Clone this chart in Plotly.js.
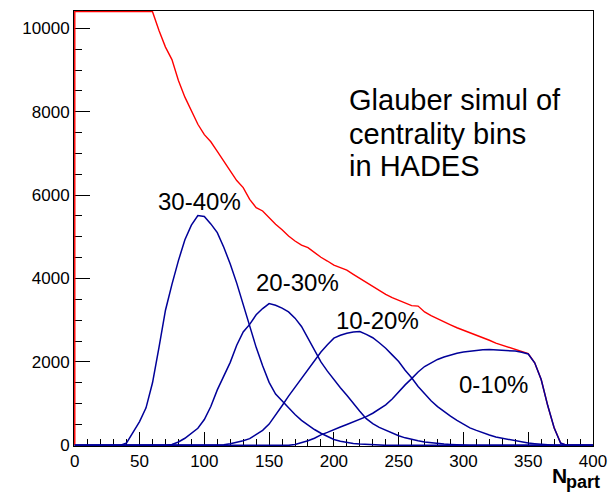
<!DOCTYPE html>
<html>
<head>
<meta charset="utf-8">
<script src="https://cdn.plot.ly/plotly-3.0.1.min.js"></script>
<style>
  html, body { margin: 0; padding: 0; background: #ffffff; }
  #chart { width: 615px; height: 492px; }
</style>
</head>
<body>
<div id="chart"></div>
<script>
// Number of participants (sampling grid, 5 units apart)
const npart = [
  0, 5, 10, 15, 20, 25, 30, 35, 40, 45,
  50, 55, 60, 65, 70, 75, 80, 85, 90, 95,
  100, 105, 110, 115, 120, 125, 130, 135, 140, 145,
  150, 155, 160, 165, 170, 175, 180, 185, 190, 195,
  200, 205, 210, 215, 220, 225, 230, 235, 240, 245,
  250, 255, 260, 265, 270, 275, 280, 285, 290, 295,
  300, 305, 310, 315, 320, 325, 330, 335, 340, 345,
  350, 355, 360, 365, 370, 375, 380, 385, 390, 395,
  400
];

// Minimum-bias N_part distribution (all events)
const allEvents = [
  38000, 26000, 21000, 18000, 16000, 14600, 13500, 12700, 12000, 11500,
  11100, 10800, 10500, 9950, 9550, 9250, 8750, 8350, 8020, 7700,
  7450, 7280, 7050, 6800, 6580, 6350, 6180, 5900, 5700, 5620,
  5450, 5300, 5170, 5020, 4900, 4800, 4740, 4620, 4510, 4420,
  4320, 4260, 4200, 4100, 4000, 3910, 3810, 3720, 3620, 3540,
  3470, 3420, 3350, 3340, 3200, 3110, 3030, 2960, 2890, 2820,
  2760, 2710, 2640, 2580, 2520, 2450, 2400, 2350, 2300, 2260,
  2200, 1980, 1580, 960, 420, 55, 0, 0, 0, 0,
  0
];

// Centrality classes
const cent30to40 = [
  0, 0, 0, 0, 0, 0, 0, 0, 60, 300,
  570, 900, 1500, 2350, 3240, 3860, 4430, 4930, 5280, 5510,
  5490, 5310, 5100, 4750, 4350, 3890, 3380, 2860, 2350, 1910,
  1510, 1230, 1060, 890, 740, 600, 480, 380, 290, 210,
  140, 100, 70, 45, 30, 20, 10, 5, 0, 0,
  0, 0, 0, 0, 0, 0, 0, 0, 0, 0,
  0, 0, 0, 0, 0, 0, 0, 0, 0, 0,
  0, 0, 0, 0, 0, 0, 0, 0, 0, 0,
  0
];

const cent20to30 = [
  0, 0, 0, 0, 0, 0, 0, 0, 0, 0,
  0, 0, 0, 0, 0, 20, 80, 170, 300, 410,
  620, 930, 1330, 1680, 1990, 2400, 2720, 2900, 3130, 3280,
  3400, 3360, 3290, 3200, 3050, 2850, 2570, 2260, 2000, 1780,
  1570, 1380, 1200, 1000, 820, 640, 520, 430, 360, 290,
  230, 180, 140, 110, 80, 60, 40, 30, 20, 10,
  5, 0, 0, 0, 0, 0, 0, 0, 0, 0,
  0, 0, 0, 0, 0, 0, 0, 0, 0, 0,
  0
];

const cent10to20 = [
  0, 0, 0, 0, 0, 0, 0, 0, 0, 0,
  0, 0, 0, 0, 0, 0, 0, 0, 0, 0,
  0, 0, 0, 15, 40, 70, 110, 160, 250, 360,
  510, 720, 950, 1180, 1390, 1600, 1820, 2040, 2240, 2410,
  2570, 2640, 2690, 2720, 2730, 2660, 2580, 2460, 2330, 2170,
  2010, 1800, 1620, 1410, 1230, 1070, 930, 810, 700, 600,
  500, 420, 360, 300, 250, 200, 170, 140, 105, 80,
  55, 40, 25, 15, 5, 0, 0, 0, 0, 0,
  0
];

const cent0to10 = [
  0, 0, 0, 0, 0, 0, 0, 0, 0, 0,
  0, 0, 0, 0, 0, 0, 0, 0, 0, 0,
  0, 0, 0, 0, 0, 0, 0, 0, 0, 0,
  0, 0, 0, 0, 20, 60, 110, 170, 250, 310,
  380, 440, 500, 560, 620, 690, 770, 860, 970, 1110,
  1290, 1450, 1600, 1760, 1890, 1980, 2060, 2120, 2170, 2210,
  2240, 2260, 2280, 2290, 2300, 2290, 2290, 2280, 2260, 2230,
  2190, 1980, 1580, 960, 420, 55, 0, 0, 0, 0,
  0
];

const yTickVals = [0, 2000, 4000, 6000, 8000, 10000];
const xTickVals = [0, 50, 100, 150, 200, 250, 300, 350, 400];

const xMax = 400;
const yMax = 10400;
// Tiny padding so outlines lying on the frame stay fully visible
const edgePad = 0.0015;

const font = 'Liberation Sans, Arial, Helvetica, sans-serif';
const red = '#ff0000';
const blue = '#000099';

// Histogram outline starts at the baseline at N_part = 0; counts above the
// frame are drawn along its top edge.
const redX = [0].concat(npart);
const redY = [0].concat(allEvents.map(v => Math.min(v, yMax)));

function classTrace(values) {
  return {
    x: npart, y: values, type: 'scatter', mode: 'lines',
    line: { color: blue, width: 1.5, shape: 'linear' },
    hoverinfo: 'skip', showlegend: false
  };
}

const traces = [
  {
    x: redX, y: redY, type: 'scatter', mode: 'lines',
    line: { color: red, width: 1.4, shape: 'linear' },
    hoverinfo: 'skip', showlegend: false
  },
  classTrace(cent30to40),
  classTrace(cent20to30),
  classTrace(cent10to20),
  classTrace(cent0to10)
];

function label(text, x, y, size, anchor) {
  return {
    text: text, x: x, y: y, xref: 'x', yref: 'y',
    xanchor: anchor || 'center', yanchor: 'middle', showarrow: false,
    font: { family: font, size: size, color: '#000000' }
  };
}

function paperLabel(text, x, y, size) {
  return {
    text: text, x: x, y: y, xref: 'paper', yref: 'paper',
    xanchor: 'left', yanchor: 'middle', showarrow: false,
    font: { family: font, size: size, color: '#000000' }
  };
}

const annotations = [
  label('30-40%', 96.5, 5840, 24),
  label('20-30%', 172, 3900, 24),
  label('10-20%', 233.7, 2990, 24),
  label('0-10%', 323.3, 1450, 24),
  label('Glauber simul of', 210.5, 8290, 29, 'left'),
  label('centrality bins', 210.5, 7460, 29, 'left'),
  label('in HADES', 210.5, 6690, 29, 'left'),
  // axis title N_part, subscript set as its own smaller text
  paperLabel('<b>N</b>', 0.917, -0.067, 21),
  paperLabel('<b>part</b>', 0.945, -0.083, 18)
];

const layout = {
  width: 615, height: 492,
  margin: { l: 74, r: 22, t: 11, b: 46, pad: 0 },
  paper_bgcolor: '#ffffff', plot_bgcolor: '#ffffff',
  showlegend: false,
  xaxis: {
    range: [-xMax * edgePad, xMax], tickvals: xTickVals, ticktext: xTickVals.map(String),
    ticks: 'inside', ticklen: 14, tickwidth: 1, tickcolor: '#000000',
    minor: { ticks: 'inside', ticklen: 7, dtick: 10, tick0: 0, tickcolor: '#000000', tickwidth: 1 },
    showline: true, linecolor: '#000000', linewidth: 1, mirror: true,
    showgrid: false, zeroline: false, layer: 'below traces',
    tickfont: { family: font, size: 17, color: '#000000' }
  },
  yaxis: {
    range: [-yMax * edgePad, yMax * (1 + edgePad)], tickvals: yTickVals, ticktext: yTickVals.map(String),
    ticks: 'inside', ticklen: 16, tickwidth: 1, tickcolor: '#000000',
    minor: { ticks: 'inside', ticklen: 8, dtick: 500, tick0: 0, tickcolor: '#000000', tickwidth: 1 },
    showline: true, linecolor: '#000000', linewidth: 1, mirror: true,
    showgrid: false, zeroline: false, layer: 'below traces',
    tickfont: { family: font, size: 17, color: '#000000' }
  },
  annotations: annotations
};

Plotly.newPlot('chart', traces, layout, { staticPlot: true, displayModeBar: false });
</script>
</body>
</html>
